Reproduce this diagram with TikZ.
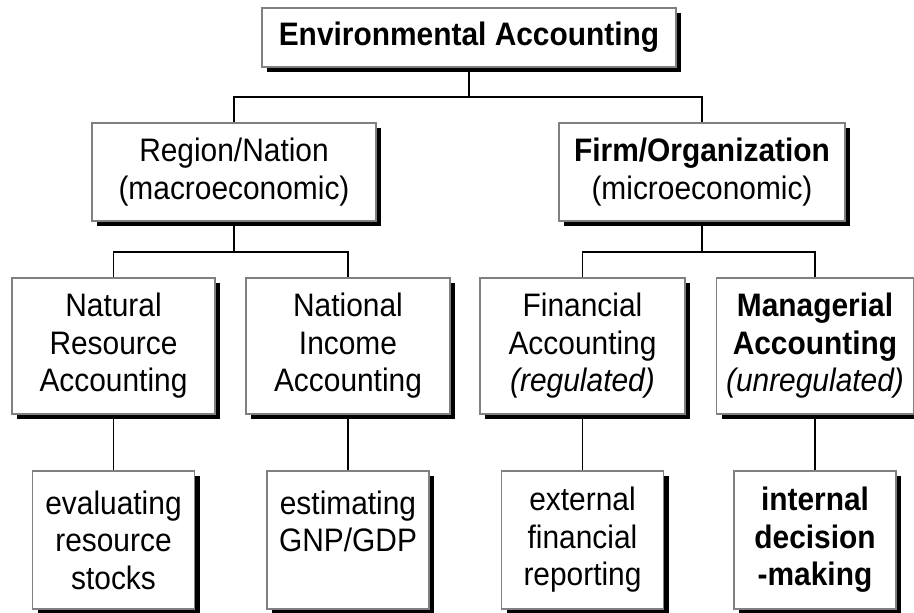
\documentclass[tikz,border=0pt]{standalone}
\usepackage{fontspec}
\setmainfont[FakeStretch=0.92]{Liberation Sans}
\usetikzlibrary{shadows}
\begin{document}
\begin{tikzpicture}[x=1pt,y=-1pt,
  box/.style={draw=black!50, line width=1.4pt, fill=white, inner sep=0pt, align=center,
    font=\fontsize{32.5}{37.5}\selectfont,
    drop shadow={shadow xshift=5pt, shadow yshift=-5pt, opacity=1, fill=black}},
  conn/.style={draw=black, line width=1.5pt}]
\useasboundingbox (0,0) rectangle (914,613);
% level 1
\node[box, minimum width=414pt, minimum height=59pt] (top) at (469,37.5) {\textbf{Environmental Accounting}};
% level 2
\node[box, minimum width=284pt, minimum height=98pt] (reg) at (234,172) {Region/Nation\\(macroeconomic)};
\node[box, minimum width=286pt, minimum height=98pt] (firm) at (702,172) {\textbf{Firm/Organization}\\(microeconomic)};
% level 3
\node[box, minimum width=203pt, minimum height=136pt] (nra) at (113.5,346) {Natural\\Resource\\Accounting};
\node[box, minimum width=204pt, minimum height=136pt] (nia) at (348,346) {National\\Income\\Accounting};
\node[box, minimum width=205pt, minimum height=136pt] (fa) at (582.5,346) {Financial\\Accounting\\\textit{(regulated)}};
\node[box, minimum width=197pt, minimum height=136pt] (ma) at (815,346) {\textbf{Managerial}\\\textbf{Accounting}\\\textit{(unregulated)}};
% level 4
\node[box, minimum width=162pt, minimum height=138pt] (ev) at (113.5,540) {evaluating\\resource\\stocks};
\node[box, minimum width=162pt, minimum height=138pt] (gnp) at (348,540) {estimating\\GNP/GDP\\\vphantom{stocks}};
\node[box, minimum width=162pt, minimum height=138pt] (ext) at (582.5,540) {external\\financial\\reporting};
\node[box, minimum width=162pt, minimum height=138pt] (int) at (815,540) {\textbf{internal}\\\textbf{decision}\\\textbf{-making}};
% bus coordinates
\coordinate (b1) at (0,97);
\coordinate (b2) at (0,252);
% connectors
\draw[conn] (top.south) -- (top.south |- b1);
\draw[conn] (reg.north) -- (reg.north |- b1) -- (firm.north |- b1) -- (firm.north);
\draw[conn] (reg.south) -- (reg.south |- b2);
\draw[conn] (nra.north) -- (nra.north |- b2) -- (nia.north |- b2) -- (nia.north);
\draw[conn] (firm.south) -- (firm.south |- b2);
\draw[conn] (fa.north) -- (fa.north |- b2) -- (ma.north |- b2) -- (ma.north);
\draw[conn] (nra.south) -- (ev.north);
\draw[conn] (nia.south) -- (gnp.north);
\draw[conn] (fa.south) -- (ext.north);
\draw[conn] (ma.south) -- (int.north);
\end{tikzpicture}
\end{document}
